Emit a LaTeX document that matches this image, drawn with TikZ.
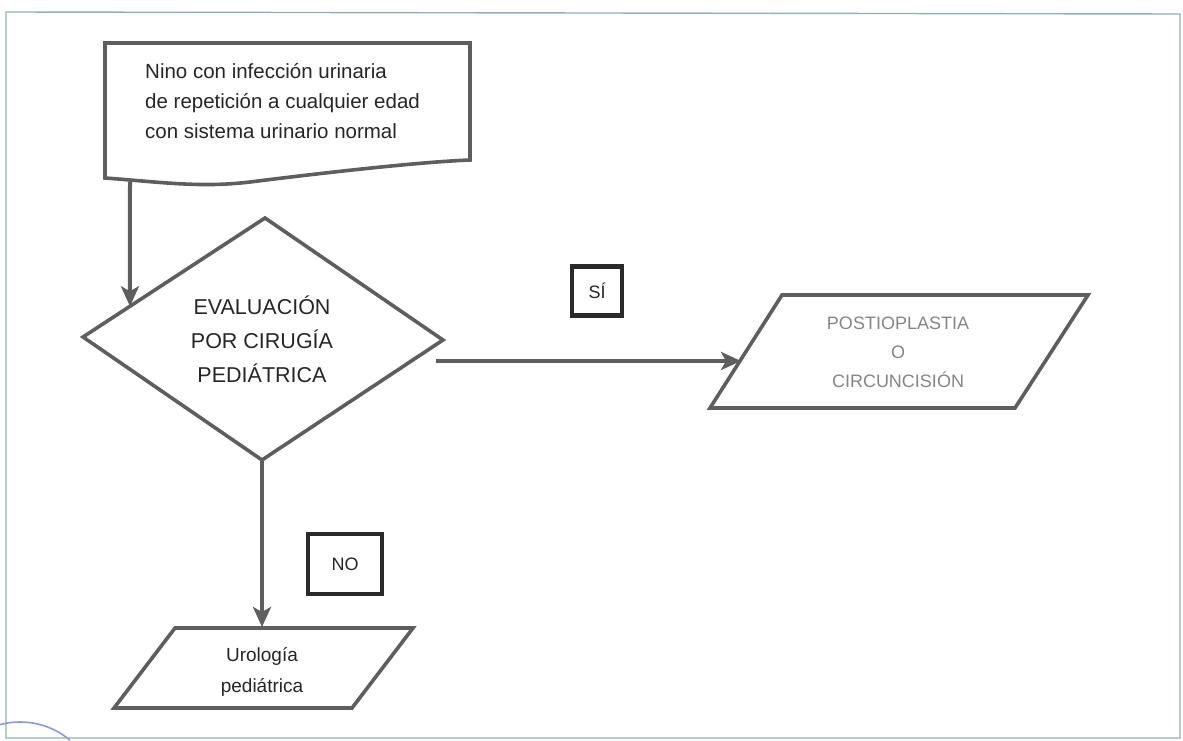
\documentclass[tikz,border=0pt]{standalone}
\usepackage{fontspec}
\setmainfont{Liberation Sans}
\usetikzlibrary{arrows.meta,calc}
\definecolor{outline}{HTML}{5E5E5E}
\definecolor{tagline}{HTML}{2A2A2A}
\definecolor{inktext}{HTML}{262626}
\definecolor{softtext}{HTML}{858585}
\definecolor{framecol}{HTML}{8FB2B4}
\definecolor{stampblue}{HTML}{5A6FC0}
\begin{document}
\begin{tikzpicture}[x=1pt,y=-1pt,
  shapeline/.style={draw=outline,line width=3.6pt,line join=miter},
  flow/.style={draw=outline,line width=4pt,-{Stealth[length=20pt,width=18pt,inset=5pt]}},
  label/.style={text=inktext,font=\fontsize{20.5}{30}\selectfont,align=center,inner sep=0pt},
  tagbox/.style={draw=tagline,line width=4.2pt,text=inktext,font=\fontsize{18}{20}\selectfont,inner sep=0pt}]
\useasboundingbox (0,0) rectangle (1183,741);
% page frame
\draw[framecol,line width=1.4pt] (6,12) -- (1180,14) -- (1180,738) -- (6,738) -- cycle;
% stamp trace in the lower left corner
\begin{scope}
\clip (0,700) rectangle (70,741);
\draw[stampblue!70,line width=1.6pt] (20,800) circle (78);
\end{scope}

% start: document symbol
\node[label,align=left,anchor=west] (start) at (145,101)
  {Nino con infección urinaria\\de repetición a cualquier edad\\con sistema urinario normal};
\draw[shapeline] (105,43) -- (470,43) -- (470,160)
  .. controls (420,162) and (330,172) .. (250,182)
  .. controls (200,188) and (160,182) .. (105,178) -- cycle;
\coordinate (startout) at (130,182);

% decision
\node[label,font=\fontsize{21.5}{34}\selectfont] (decide) at (262,339)
  {EVALUACIÓN\\POR CIRUGÍA\\PEDIÁTRICA};
\coordinate (dN) at (265,218);
\coordinate (dE) at (443,340);
\coordinate (dS) at (262,460);
\coordinate (dW) at (83,337);
\draw[shapeline] (dN) -- (dE) -- (dS) -- (dW) -- cycle;
\coordinate (decidein) at ($(dW)!0.258!(dN)$);
\coordinate (yesfrom) at (436,361);

% outcome: yes
\node[label,text=softtext,font=\fontsize{18}{29}\selectfont] (yes) at (898,352)
  {POSTIOPLASTIA\\O\\CIRCUNCISIÓN};
\draw[shapeline] (782,295) -- (1088,295) -- (1015,408) -- (710,408) -- cycle;
\coordinate (yesin) at (741,361);

% outcome: no
\node[label,font=\fontsize{19}{31}\selectfont] (no) at (262,672)
  {Urología\\pediátrica};
\draw[shapeline] (175,628) -- (413,628) -- (352,708) -- (114,708) -- cycle;
\coordinate (noin) at (262,627);

% answer tags
\node[tagbox,minimum width=50pt,minimum height=49pt] (tagyes) at (597,291) {SÍ};
\node[tagbox,minimum width=74pt,minimum height=60pt] (tagno) at (345,564) {NO};

% connectors
\draw[flow] (startout) -- (decidein);
\draw[flow] (yesfrom) -- (yesin);
\draw[flow] (dS) -- (noin);
\end{tikzpicture}
\end{document}
